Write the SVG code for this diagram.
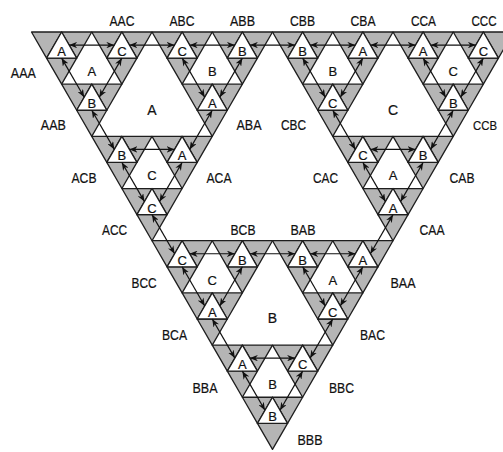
<svg xmlns="http://www.w3.org/2000/svg" xmlns:xlink="http://www.w3.org/1999/xlink" width="503" height="452" viewBox="0 0 503 452">
<style>
.t{font-family:"Liberation Sans",Arial,sans-serif;font-size:13px;text-anchor:middle;fill:#111;stroke:#111;stroke-width:0.2}
.lb{font-size:14px}
.big{font-size:14px}
.e{stroke:#111;stroke-width:1.2;fill:none;marker-start:url(#ah);marker-end:url(#ah)}
</style>
<defs>
<marker id="ah" viewBox="0 0 10 8" refX="10" refY="4" markerWidth="8" markerHeight="6.4" markerUnits="userSpaceOnUse" orient="auto-start-reverse">
<path d="M0,0 L10,4 L0,8 L3,4 z" fill="#111"/>
</marker>
<g id="cell" stroke="#1e1e1e" stroke-width="1.3" stroke-linejoin="round">
<polygon fill="#b5b5b5" points="0,0 30.125,0 15.0625,26.089"/>
<polygon fill="#b5b5b5" points="30.125,0 60.25,0 45.1875,26.089"/>
<polygon fill="#b5b5b5" points="15.0625,26.089 45.1875,26.089 30.125,52.178"/>
<polygon fill="#ffffff" points="30.125,0 15.0625,26.089 45.1875,26.089"/>
</g>
</defs>
<rect width="503" height="452" fill="#fff"/>
<g id="nodes">
<g id="AAA"><use xlink:href="#cell" x="31.5" y="32"/><text class="t" x="61.625" y="56">A</text><text class="t lb" x="23.3" y="77.5" textLength="25" lengthAdjust="spacingAndGlyphs">AAA</text></g>
<g id="AAC"><use xlink:href="#cell" x="91.75" y="32"/><text class="t" x="121.875" y="56">C</text><text class="t lb" x="122" y="25.5" textLength="25" lengthAdjust="spacingAndGlyphs">AAC</text></g>
<g id="AAB"><use xlink:href="#cell" x="61.625" y="84.178"/><text class="t" x="91.75" y="108.2">B</text><text class="t lb" x="53.3" y="130" textLength="25" lengthAdjust="spacingAndGlyphs">AAB</text></g>
<g id="ABC"><use xlink:href="#cell" x="152" y="32"/><text class="t" x="182.125" y="56">C</text><text class="t lb" x="182" y="25.5" textLength="25" lengthAdjust="spacingAndGlyphs">ABC</text></g>
<g id="ABB"><use xlink:href="#cell" x="212.25" y="32"/><text class="t" x="242.375" y="56">B</text><text class="t lb" x="242.5" y="25.5" textLength="25" lengthAdjust="spacingAndGlyphs">ABB</text></g>
<g id="ABA"><use xlink:href="#cell" x="182.125" y="84.178"/><text class="t" x="212.25" y="108.2">A</text><text class="t lb" x="249" y="129.5" textLength="25" lengthAdjust="spacingAndGlyphs">ABA</text></g>
<g id="ACB"><use xlink:href="#cell" x="91.75" y="136.356"/><text class="t" x="121.875" y="160.4">B</text><text class="t lb" x="84" y="183" textLength="25" lengthAdjust="spacingAndGlyphs">ACB</text></g>
<g id="ACA"><use xlink:href="#cell" x="152" y="136.356"/><text class="t" x="182.125" y="160.4">A</text><text class="t lb" x="219" y="183" textLength="25" lengthAdjust="spacingAndGlyphs">ACA</text></g>
<g id="ACC"><use xlink:href="#cell" x="121.875" y="188.534"/><text class="t" x="152" y="212.5">C</text><text class="t lb" x="114.5" y="234.5" textLength="25" lengthAdjust="spacingAndGlyphs">ACC</text></g>
<g id="CBB"><use xlink:href="#cell" x="272.5" y="32"/><text class="t" x="302.625" y="56">B</text><text class="t lb" x="302.5" y="25.5" textLength="25" lengthAdjust="spacingAndGlyphs">CBB</text></g>
<g id="CBA"><use xlink:href="#cell" x="332.75" y="32"/><text class="t" x="362.875" y="56">A</text><text class="t lb" x="363" y="25.5" textLength="25" lengthAdjust="spacingAndGlyphs">CBA</text></g>
<g id="CBC"><use xlink:href="#cell" x="302.625" y="84.178"/><text class="t" x="332.75" y="108.2">C</text><text class="t lb" x="293.5" y="129.5" textLength="25" lengthAdjust="spacingAndGlyphs">CBC</text></g>
<g id="CCA"><use xlink:href="#cell" x="393" y="32"/><text class="t" x="423.125" y="56">A</text><text class="t lb" x="423.5" y="25.5" textLength="25" lengthAdjust="spacingAndGlyphs">CCA</text></g>
<g id="CCC"><use xlink:href="#cell" x="453.25" y="32"/><text class="t" x="483.375" y="56">C</text><text class="t lb" x="484" y="25.5" textLength="25" lengthAdjust="spacingAndGlyphs">CCC</text></g>
<g id="CCB"><use xlink:href="#cell" x="423.125" y="84.178"/><text class="t" x="453.25" y="108.2">B</text><text class="t" x="485" y="130" font-size="13.5" textLength="24" lengthAdjust="spacingAndGlyphs">CCB</text></g>
<g id="CAC"><use xlink:href="#cell" x="332.75" y="136.356"/><text class="t" x="362.875" y="160.4">C</text><text class="t lb" x="325.5" y="182.5" textLength="25" lengthAdjust="spacingAndGlyphs">CAC</text></g>
<g id="CAB"><use xlink:href="#cell" x="393" y="136.356"/><text class="t" x="423.125" y="160.4">B</text><text class="t lb" x="462" y="183" textLength="25" lengthAdjust="spacingAndGlyphs">CAB</text></g>
<g id="CAA"><use xlink:href="#cell" x="362.875" y="188.534"/><text class="t" x="393" y="212.5">A</text><text class="t lb" x="432" y="234.5" textLength="25" lengthAdjust="spacingAndGlyphs">CAA</text></g>
<g id="BCC"><use xlink:href="#cell" x="152" y="240.712"/><text class="t" x="182.125" y="264.7">C</text><text class="t lb" x="144" y="287.5" textLength="25" lengthAdjust="spacingAndGlyphs">BCC</text></g>
<g id="BCB"><use xlink:href="#cell" x="212.25" y="240.712"/><text class="t" x="242.375" y="264.7">B</text><text class="t lb" x="243" y="235" textLength="25" lengthAdjust="spacingAndGlyphs">BCB</text></g>
<g id="BCA"><use xlink:href="#cell" x="182.125" y="292.89"/><text class="t" x="212.25" y="316.9">A</text><text class="t lb" x="174.5" y="340" textLength="25" lengthAdjust="spacingAndGlyphs">BCA</text></g>
<g id="BAB"><use xlink:href="#cell" x="272.5" y="240.712"/><text class="t" x="302.625" y="264.7">B</text><text class="t lb" x="303" y="234.5" textLength="25" lengthAdjust="spacingAndGlyphs">BAB</text></g>
<g id="BAA"><use xlink:href="#cell" x="332.75" y="240.712"/><text class="t" x="362.875" y="264.7">A</text><text class="t lb" x="403" y="287.5" textLength="25" lengthAdjust="spacingAndGlyphs">BAA</text></g>
<g id="BAC"><use xlink:href="#cell" x="302.625" y="292.89"/><text class="t" x="332.75" y="316.9">C</text><text class="t lb" x="372.5" y="340" textLength="25" lengthAdjust="spacingAndGlyphs">BAC</text></g>
<g id="BBA"><use xlink:href="#cell" x="212.25" y="345.068"/><text class="t" x="242.375" y="369.1">A</text><text class="t lb" x="205" y="392.5" textLength="25" lengthAdjust="spacingAndGlyphs">BBA</text></g>
<g id="BBC"><use xlink:href="#cell" x="272.5" y="345.068"/><text class="t" x="302.625" y="369.1">C</text><text class="t lb" x="341.5" y="392.5" textLength="25" lengthAdjust="spacingAndGlyphs">BBC</text></g>
<g id="BBB"><use xlink:href="#cell" x="242.375" y="397.246"/><text class="t" x="272.5" y="421.2">B</text><text class="t lb" x="310" y="445" textLength="25" lengthAdjust="spacingAndGlyphs">BBB</text></g>
</g>
<g id="regions">
<text class="t" x="91.75" y="76">A</text>
<text class="t" x="212.25" y="76">B</text>
<text class="t" x="332.75" y="76">B</text>
<text class="t" x="453.25" y="76">C</text>
<text class="t" x="152" y="180.2">C</text>
<text class="t" x="393" y="180.2">A</text>
<text class="t" x="212.25" y="284.7">C</text>
<text class="t" x="332.75" y="284.7">A</text>
<text class="t" x="272.5" y="389">B</text>
<text class="t big" x="152" y="114.6">A</text>
<text class="t big" x="393" y="114.6">C</text>
<text class="t big" x="272.5" y="323.3">B</text>
</g>
<g id="connectors">
<line class="e" x1="69.156" y1="45.044" x2="114.344" y2="45.044"/>
<line class="e" x1="61.625" y1="58.089" x2="84.219" y2="97.222"/>
<line class="e" x1="121.875" y1="58.089" x2="99.281" y2="97.222"/>
<line class="e" x1="189.656" y1="45.044" x2="234.844" y2="45.044"/>
<line class="e" x1="182.125" y1="58.089" x2="204.719" y2="97.222"/>
<line class="e" x1="242.375" y1="58.089" x2="219.781" y2="97.222"/>
<line class="e" x1="129.406" y1="149.4" x2="174.594" y2="149.4"/>
<line class="e" x1="121.875" y1="162.445" x2="144.469" y2="201.578"/>
<line class="e" x1="182.125" y1="162.445" x2="159.531" y2="201.578"/>
<line class="e" x1="310.156" y1="45.044" x2="355.344" y2="45.044"/>
<line class="e" x1="302.625" y1="58.089" x2="325.219" y2="97.222"/>
<line class="e" x1="362.875" y1="58.089" x2="340.281" y2="97.222"/>
<line class="e" x1="430.656" y1="45.044" x2="475.844" y2="45.044"/>
<line class="e" x1="423.125" y1="58.089" x2="445.719" y2="97.222"/>
<line class="e" x1="483.375" y1="58.089" x2="460.781" y2="97.222"/>
<line class="e" x1="370.406" y1="149.4" x2="415.594" y2="149.4"/>
<line class="e" x1="362.875" y1="162.445" x2="385.469" y2="201.578"/>
<line class="e" x1="423.125" y1="162.445" x2="400.531" y2="201.578"/>
<line class="e" x1="189.656" y1="253.756" x2="234.844" y2="253.756"/>
<line class="e" x1="182.125" y1="266.801" x2="204.719" y2="305.934"/>
<line class="e" x1="242.375" y1="266.801" x2="219.781" y2="305.934"/>
<line class="e" x1="310.156" y1="253.756" x2="355.344" y2="253.756"/>
<line class="e" x1="302.625" y1="266.801" x2="325.219" y2="305.934"/>
<line class="e" x1="362.875" y1="266.801" x2="340.281" y2="305.934"/>
<line class="e" x1="249.906" y1="358.112" x2="295.094" y2="358.112"/>
<line class="e" x1="242.375" y1="371.157" x2="264.969" y2="410.29"/>
<line class="e" x1="302.625" y1="371.157" x2="280.031" y2="410.29"/>
<line class="e" x1="129.406" y1="45.044" x2="174.594" y2="45.044"/>
<line class="e" x1="91.75" y1="110.267" x2="114.344" y2="149.4"/>
<line class="e" x1="212.25" y1="110.267" x2="189.656" y2="149.4"/>
<line class="e" x1="370.406" y1="45.044" x2="415.594" y2="45.044"/>
<line class="e" x1="332.75" y1="110.267" x2="355.344" y2="149.4"/>
<line class="e" x1="453.25" y1="110.267" x2="430.656" y2="149.4"/>
<line class="e" x1="249.906" y1="253.756" x2="295.094" y2="253.756"/>
<line class="e" x1="212.25" y1="318.979" x2="234.844" y2="358.112"/>
<line class="e" x1="332.75" y1="318.979" x2="310.156" y2="358.112"/>
<line class="e" x1="249.906" y1="45.044" x2="295.094" y2="45.044"/>
<line class="e" x1="152" y1="214.623" x2="174.594" y2="253.756"/>
<line class="e" x1="393" y1="214.623" x2="370.406" y2="253.756"/>
</g>
</svg>
